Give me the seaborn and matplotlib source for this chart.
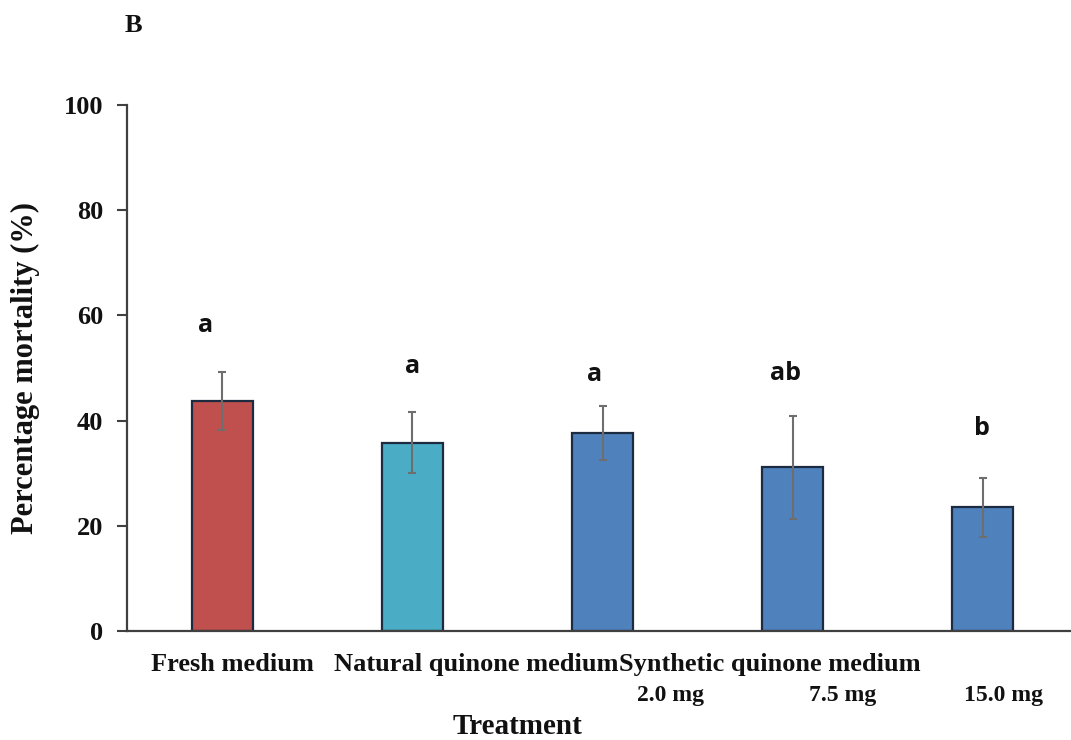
import matplotlib
matplotlib.use("Agg")
import matplotlib.pyplot as plt
import matplotlib.transforms as mtransforms
import seaborn as sns
import pandas as pd

# ---- data ----
treatments = ["Fresh medium", "Natural quinone medium", "Synthetic 2.0 mg",
              "Synthetic 7.5 mg", "Synthetic 15.0 mg"]
mortality = [43.8, 35.8, 37.6, 31.1, 23.5]
errors = [5.5, 5.8, 5.1, 9.8, 5.6]
letters = ["a", "a", "a", "ab", "b"]
group_labels = ["Fresh medium", "Natural quinone medium", "Synthetic quinone medium"]
dose_labels = ["2.0 mg", "7.5 mg", "15.0 mg"]
y_ticks = [0, 20, 40, 60, 80, 100]

# ---- layout / style ----
letter_pad = [8.8, 8.6, 6.1, 8.0, 9.4]
letter_dx = [-0.085, 0.0, -0.04, -0.037, -0.005]
colors = ["#C0504D", "#4BACC6", "#4F81BD", "#4F81BD", "#4F81BD"]
sns.set_style("white")
serif = ["Liberation Serif", "DejaVu Serif"]
plt.rcParams["font.family"] = serif

fig = plt.figure(figsize=(10.71, 7.40), dpi=100)
ax = fig.add_axes([127 / 1071, 109 / 740, 951 / 1071, 526 / 740])

df = pd.DataFrame({"treatment": treatments, "mortality": mortality})
sns.barplot(data=df, x="treatment", y="mortality", hue="treatment",
            palette=colors, saturation=1, width=0.32, edgecolor="#1c2b40",
            linewidth=1.6, legend=False, ax=ax)
xs = list(range(len(treatments)))
ax.errorbar(xs, mortality, yerr=errors, fmt="none", ecolor="#6e6e6e",
            elinewidth=1.5, capsize=2.8, capthick=1.5, zorder=5)

for x, m, e, lt, p, dx in zip(xs, mortality, errors, letters, letter_pad, letter_dx):
    ax.text(x + dx, m + e + p, lt, ha="center", va="center",
            fontsize=18, fontweight="bold", family=["Open Sans", "DejaVu Sans"],
            color="#111111")

ax.set_xlim(-0.5, 4.5)
ax.set_ylim(0, 100)
ax.set_yticks(y_ticks)
ax.set_yticklabels([str(t) for t in y_ticks], fontsize=19, fontweight="bold",
                   color="#111111")
ax.tick_params(axis="y", direction="out", length=7, width=1.5, pad=10,
               color="#404040", left=True)
ax.tick_params(axis="x", length=0, labelbottom=False)
ax.set_xlabel("")
ax.set_ylabel("")
sns.despine(ax=ax)
for s in ["left", "bottom"]:
    ax.spines[s].set_color("#404040")
    ax.spines[s].set_linewidth(1.6)

trans = mtransforms.blended_transform_factory(ax.transData, ax.transAxes)
group_x = [0.055, 1.337, 2.879]
for gx, gl in zip(group_x, group_labels):
    ax.text(gx, -0.064, gl, transform=trans, ha="center", va="center",
            fontsize=19, fontweight="bold", color="#111111")
dose_x = [2.358, 3.263, 4.11]
for dx, dl in zip(dose_x, dose_labels):
    ax.text(dx, -0.122, dl, transform=trans, ha="center", va="center",
            fontsize=17, fontweight="bold", color="#111111")

ax.text(1.553, -0.182, "Treatment", transform=trans, ha="center", va="center",
        fontsize=21, fontweight="bold", color="#111111")
ax.text(-0.107, 0.5, "Percentage mortality (%)", transform=ax.transAxes,
        rotation=90, ha="center", va="center", fontsize=22, fontweight="bold",
        color="#111111")
fig.text(133 / 1071, 1 - 25 / 740, "B", ha="center", va="center",
         fontsize=19, fontweight="bold", color="#111111")

fig.savefig("out.png", dpi=100)
